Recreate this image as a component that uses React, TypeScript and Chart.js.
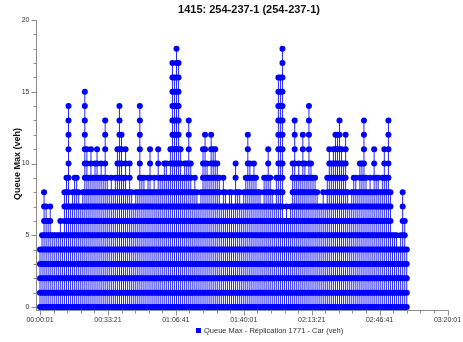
import React, { useEffect, useRef } from "react";
import { Chart, registerables } from "chart.js";

Chart.register(...registerables);

const titleText = "1415: 254-237-1 (254-237-1)";
const yAxisTitle = "Queue Max (veh)";
const seriesLabel = "Queue Max - Réplication 1771 - Car (veh)";

const xMinSec = 1;
const xMaxSec = 12001;
const xMajorStepSec = 2000;
const xMinorStepSec = 400;
const xTickLabels = ["00:00:01", "00:33:21", "01:06:41", "01:40:01", "02:13:21", "02:46:41", "03:20:01"];

const yMin = 0;
const yMax = 20;
const yLabelValues = [0, 5, 10, 15, 20];

const sampleStartSec = 1;
const sampleStepSec = 60;
const queueMax = [
  4, 5, 8, 7, 6, 7, 5, 5, 5, 5,
  6, 5, 8, 9, 14, 7, 8, 9, 9, 8,
  7, 8, 15, 11, 9, 11, 9, 10, 11, 9,
  10, 9, 13, 9, 8, 9, 8, 9, 11, 14,
  12, 9, 11, 8, 10, 8, 7, 8, 8, 14,
  9, 9, 8, 9, 11, 8, 9, 8, 11, 9,
  9, 10, 10, 9, 11, 17, 16, 18, 17, 11,
  9, 10, 10, 13, 10, 8, 9, 8, 7, 8,
  11, 12, 10, 9, 12, 11, 11, 10, 9, 7,
  9, 8, 7, 8, 8, 7, 10, 8, 8, 7,
  8, 9, 12, 10, 9, 10, 9, 8, 8, 7,
  9, 9, 11, 9, 8, 7, 9, 16, 16, 18,
  6, 7, 6, 7, 10, 13, 9, 10, 9, 12,
  10, 9, 14, 10, 9, 9, 8, 7, 7, 8,
  7, 9, 11, 10, 11, 12, 12, 13, 11, 10,
  12, 8, 7, 8, 9, 9, 8, 10, 10, 13,
  9, 8, 9, 8, 11, 9, 9, 8, 9, 11,
  9, 13, 8, 5, 5, 5, 4, 5, 8, 6,
  4,
];

const axesPlugin = {
  id: "customAxes",
  beforeDatasetsDraw(chart: any) {
    const ctx = chart.ctx as CanvasRenderingContext2D;
    const xs = chart.scales.x;
    const ys = chart.scales.y;
    const area = chart.chartArea;
    const axisX = Math.round(area.left) - 3.5;
    const axisY = Math.round(area.bottom) + 3.5;
    ctx.save();
    ctx.strokeStyle = "#8c8c8c";
    ctx.lineWidth = 1;
    ctx.beginPath();
    ctx.moveTo(axisX, Math.round(ys.getPixelForValue(yMax)));
    ctx.lineTo(axisX, axisY);
    ctx.stroke();
    ctx.beginPath();
    ctx.moveTo(axisX, axisY);
    ctx.lineTo(Math.round(xs.getPixelForValue(xMaxSec)) + 0.5, axisY);
    ctx.stroke();
    for (let v = yMin; v <= yMax; v++) {
      const py = Math.round(ys.getPixelForValue(v)) + 0.5;
      const len = v % 5 === 0 ? 5 : 3;
      ctx.beginPath();
      ctx.moveTo(axisX - len, py);
      ctx.lineTo(axisX, py);
      ctx.stroke();
    }
    for (let t = xMinSec; t <= xMaxSec; t += xMinorStepSec) {
      const px = Math.round(xs.getPixelForValue(t)) + 0.5;
      const major = (t - xMinSec) % xMajorStepSec === 0;
      ctx.beginPath();
      ctx.moveTo(px, axisY);
      ctx.lineTo(px, axisY + (major ? 5 : 3));
      ctx.stroke();
    }
    ctx.fillStyle = "#333";
    ctx.font = "7px 'Liberation Sans', Arial, sans-serif";
    ctx.textAlign = "right";
    ctx.textBaseline = "middle";
    yLabelValues.forEach((v) => {
      ctx.fillText(String(v), axisX - 7, ys.getPixelForValue(v));
    });
    ctx.textAlign = "center";
    xTickLabels.forEach((lab, k) => {
      const t = xMinSec + k * xMajorStepSec;
      ctx.fillText(lab, xs.getPixelForValue(t), axisY + 10);
    });
    ctx.restore();
  },
  afterDraw(chart: any) {
    const ctx = chart.ctx as CanvasRenderingContext2D;
    ctx.save();
    ctx.fillStyle = "#111";
    ctx.font = "bold 11px 'Liberation Sans', Arial, sans-serif";
    ctx.textAlign = "center";
    ctx.textBaseline = "middle";
    ctx.fillText(titleText, 249, 10);
    ctx.save();
    ctx.translate(18, 164);
    ctx.rotate(-Math.PI / 2);
    ctx.font = "bold 9px 'Liberation Sans', Arial, sans-serif";
    ctx.fillText(yAxisTitle, 0, 0);
    ctx.restore();
    ctx.fillStyle = "#0000ff";
    ctx.fillRect(196, 328, 5, 5);
    ctx.fillStyle = "#333";
    ctx.font = "7.5px 'Liberation Sans', Arial, sans-serif";
    ctx.textAlign = "left";
    ctx.fillText(seriesLabel, 204, 330.5);
    ctx.restore();
  },
};

export default function App() {
  const canvasRef = useRef<HTMLCanvasElement | null>(null);

  useEffect(() => {
    if (!canvasRef.current) return;
    const stemData: any[] = [];
    const dotData: any[] = [];
    queueMax.forEach((v, i) => {
      const t = sampleStartSec + i * sampleStepSec;
      stemData.push({ x: t, y: 0 }, { x: t, y: v }, { x: t, y: null });
      for (let k = 0; k <= v; k++) dotData.push({ x: t, y: k });
    });
    const chart = new Chart(canvasRef.current, {
      type: "scatter",
      data: {
        datasets: [
          {
            label: seriesLabel,
            data: dotData,
            pointRadius: 3,
            pointBackgroundColor: "#0000ff",
            pointBorderWidth: 0,
            showLine: false,
            clip: false as any,
          },
          {
            label: "stems",
            data: stemData,
            showLine: true,
            spanGaps: false,
            borderColor: "rgba(0,0,255,0.85)",
            borderWidth: 1,
            pointRadius: 0,
            clip: false as any,
          },
        ],
      },
      options: {
        animation: false,
        responsive: false,
        layout: { padding: { left: 40, right: 15.5, top: 20, bottom: 35 } },
        scales: {
          x: { type: "linear", min: xMinSec, max: xMaxSec, display: false },
          y: { type: "linear", min: yMin, max: yMax, display: false },
        },
        plugins: {
          legend: { display: false },
          title: { display: false },
          tooltip: { enabled: false },
        },
      },
      plugins: [axesPlugin],
    });
    return () => chart.destroy();
  }, []);

  return (
    <div style={{ position: "fixed", left: 0, top: 0, width: 463, height: 342, background: "#fff" }}>
      <canvas ref={canvasRef} width={463} height={342} style={{ width: 463, height: 342 }} />
    </div>
  );
}
